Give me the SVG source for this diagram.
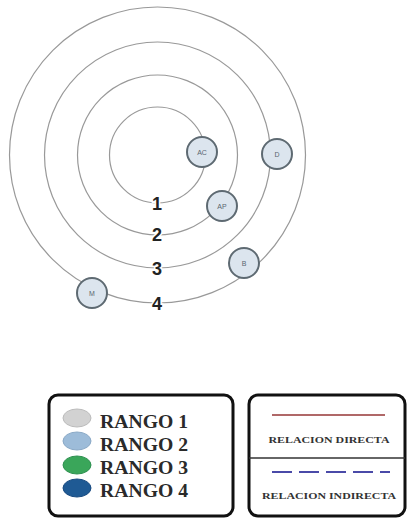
<svg xmlns="http://www.w3.org/2000/svg" width="412" height="518" viewBox="0 0 412 518">
<style>
.ring{fill:none;stroke:#999;stroke-width:1.2}
.node circle{fill:#dce5ee;stroke:#5e6a72;stroke-width:2}
.node text{font-family:"Liberation Sans",Arial,sans-serif;font-size:7px;fill:#5a6670;text-anchor:middle}
.num{font-family:"Liberation Sans",Arial,sans-serif;font-size:18px;font-weight:bold;fill:#222;text-anchor:middle;stroke:#fff;stroke-width:3;paint-order:stroke}
.box{fill:#fff;stroke:#111;stroke-width:3}
.rg{font-family:"Liberation Serif","Times New Roman",serif;font-size:18px;font-weight:bold;fill:#2a2a2a}
.rel{font-family:"Liberation Serif","Times New Roman",serif;font-size:9px;font-weight:bold;fill:#333;text-anchor:middle}
</style>
<rect width="412" height="518" fill="#fff"/>
<g id="rings">
<circle class="ring" cx="157.5" cy="155" r="48"/>
<circle class="ring" cx="157.5" cy="155" r="80"/>
<circle class="ring" cx="157.5" cy="155" r="113"/>
<circle class="ring" cx="157.5" cy="155" r="148"/>
<text class="num" x="157" y="210">1</text>
<text class="num" x="157" y="241">2</text>
<text class="num" x="157" y="275">3</text>
<text class="num" x="157" y="310">4</text>
</g>
<g id="connectors"></g>
<g id="node-AC" class="node"><circle cx="202" cy="152" r="15"/><text x="202" y="154.5">AC</text></g>
<g id="node-D" class="node"><circle cx="277" cy="154" r="15"/><text x="277" y="156.5">D</text></g>
<g id="node-AP" class="node"><circle cx="222" cy="206" r="15"/><text x="222" y="208.5">AP</text></g>
<g id="node-B" class="node"><circle cx="244" cy="263" r="15"/><text x="244" y="265.5">B</text></g>
<g id="node-M" class="node"><circle cx="92" cy="293" r="15"/><text x="92" y="295.5">M</text></g>
<g id="legend-rangos">
<rect class="box" x="49" y="395" width="184" height="121" rx="9"/>
<ellipse cx="77" cy="418" rx="14" ry="9" fill="#d2d2d2" stroke="#bbb"/>
<ellipse cx="77" cy="441" rx="14" ry="9" fill="#9dbcd9" stroke="#8aa9c6"/>
<ellipse cx="77" cy="465" rx="14" ry="9" fill="#3aa65a" stroke="#2e9050"/>
<ellipse cx="77" cy="488" rx="14" ry="9" fill="#1f5a94" stroke="#184a80"/>
<text class="rg" x="100" y="428" textLength="88" lengthAdjust="spacingAndGlyphs">RANGO 1</text>
<text class="rg" x="100" y="451" textLength="88" lengthAdjust="spacingAndGlyphs">RANGO 2</text>
<text class="rg" x="100" y="474" textLength="88" lengthAdjust="spacingAndGlyphs">RANGO 3</text>
<text class="rg" x="100" y="497" textLength="88" lengthAdjust="spacingAndGlyphs">RANGO 4</text>
</g>
<g id="legend-relaciones">
<rect class="box" x="249" y="395" width="156" height="121" rx="9"/>
<line x1="249" y1="458" x2="405" y2="458" stroke="#333" stroke-width="1.5"/>
<line x1="272" y1="415" x2="385" y2="415" stroke="#b06868" stroke-width="2"/>
<text class="rel" x="329" y="443" textLength="121" lengthAdjust="spacingAndGlyphs">RELACION DIRECTA</text>
<line x1="272" y1="472" x2="390" y2="472" stroke="#4a4aa8" stroke-width="2" stroke-dasharray="20,7"/>
<text class="rel" x="329" y="499" textLength="134" lengthAdjust="spacingAndGlyphs">RELACION INDIRECTA</text>
</g>
</svg>
